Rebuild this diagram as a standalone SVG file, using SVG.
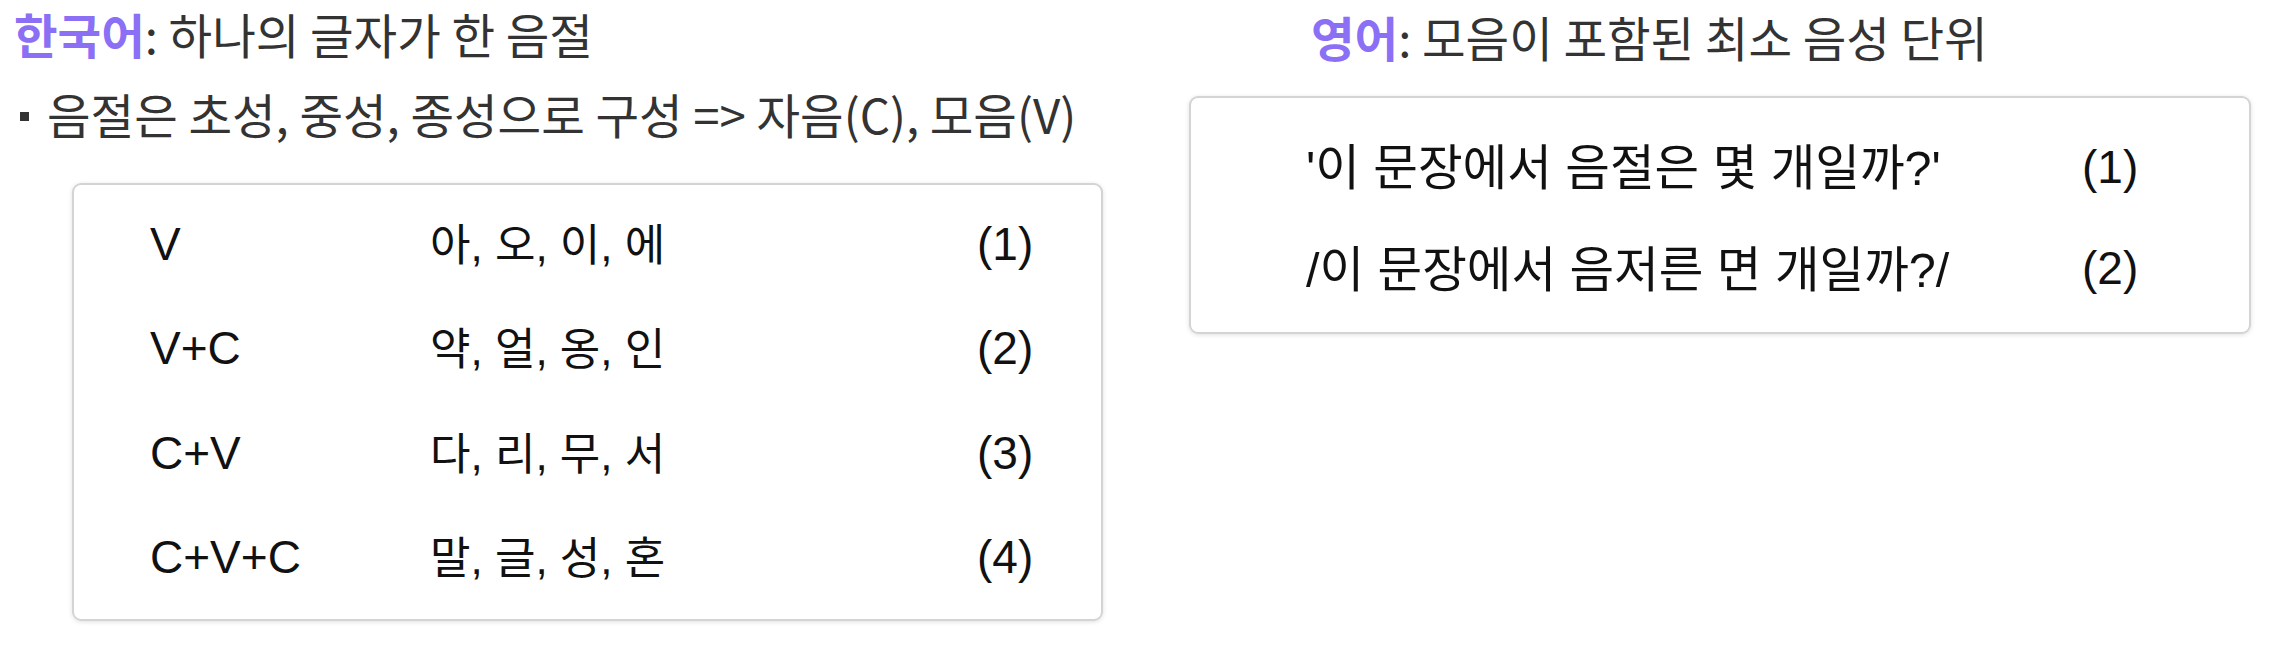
<svg xmlns="http://www.w3.org/2000/svg" width="2280" height="646" viewBox="0 0 2280 646">
  <style>
    .hdr { font-family: "Noto Sans CJK KR", "Noto Sans", sans-serif; font-size: 47.4px; fill: #333333; }
    .accent { fill: #8b6ff5; font-weight: 700; }
    .box { fill: #ffffff; stroke: #d4d4d4; stroke-width: 2; }
    .lat { font-family: "Liberation Sans", Arial, "Noto Sans CJK KR", sans-serif; font-size: 46px; fill: #111111; }
    .kor { font-family: "Liberation Sans", Arial, "Noto Sans CJK KR", sans-serif; font-size: 44px; fill: #111111; }
    .sent { font-family: "Liberation Sans", Arial, "Noto Sans CJK KR", sans-serif; font-size: 48.5px; fill: #111111; }
  </style>
  <defs>
    <filter id="sh" x="-5%" y="-5%" width="110%" height="115%">
      <feDropShadow dx="0" dy="1" stdDeviation="2" flood-color="#000000" flood-opacity="0.12"/>
    </filter>
  </defs>
  <rect x="0" y="0" width="2280" height="646" fill="#ffffff"/>

  <g id="korean-header">
    <text class="hdr" x="14" y="54"><tspan class="accent">한국어</tspan>: 하나의 글자가 한 음절</text>
  </g>

  <g id="korean-bullet">
    <rect x="20" y="112" width="9" height="9" fill="#333333"/>
    <text class="hdr" x="47" y="134">음절은 초성, 중성, 종성으로 구성 =&gt; 자음(C), 모음(V)</text>
  </g>

  <g id="korean-box">
    <rect class="box" x="73" y="184" width="1029" height="436" rx="8" filter="url(#sh)"/>
    <text class="lat" x="150" y="260">V</text>
    <text class="kor" x="430" y="261">아, 오, 이, 에</text>
    <text class="lat" x="977" y="260">(1)</text>
    <text class="lat" x="150" y="364">V+C</text>
    <text class="kor" x="430" y="365">약, 얼, 옹, 인</text>
    <text class="lat" x="977" y="364">(2)</text>
    <text class="lat" x="150" y="469">C+V</text>
    <text class="kor" x="430" y="470">다, 리, 무, 서</text>
    <text class="lat" x="977" y="469">(3)</text>
    <text class="lat" x="150" y="573">C+V+C</text>
    <text class="kor" x="430" y="574">말, 글, 성, 혼</text>
    <text class="lat" x="977" y="573">(4)</text>
  </g>

  <g id="english-header">
    <text class="hdr" x="1311" y="57"><tspan class="accent">영어</tspan>: 모음이 포함된 최소 음성 단위</text>
  </g>

  <g id="english-box">
    <rect class="box" x="1190" y="97" width="1060" height="236" rx="8" filter="url(#sh)"/>
    <text class="sent" x="1306" y="185">'이 문장에서 음절은 몇 개일까?'</text>
    <text class="lat" x="2082" y="183">(1)</text>
    <text class="sent" x="1306" y="287">/이 문장에서 음저른 면 개일까?/</text>
    <text class="lat" x="2082" y="284">(2)</text>
  </g>

  <g id="connectors"/>
</svg>
